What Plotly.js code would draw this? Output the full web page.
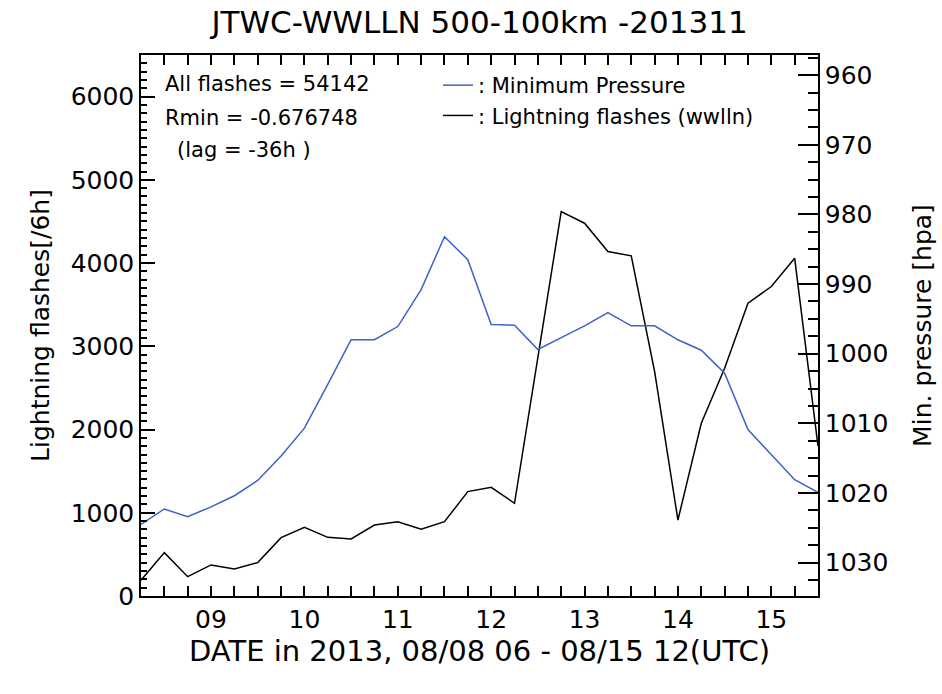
<!DOCTYPE html>
<html>
<head>
<meta charset="utf-8">
<script src="https://cdn.plot.ly/plotly-3.0.1.min.js"></script>
<style>html,body{margin:0;padding:0;background:#fff;}#chart{width:942px;height:694px;}</style>
</head>
<body>
<div id="chart"></div>
<script>
// Time axis: hours after 2013-08-08 00 UTC, 6-hourly from 08/08 06 to 08/15 12
const firstHour = 6;
const stepHours = 6;
const stepCount = 30;
const minPressure = [1024.5, 1022.3, 1023.4, 1022.0, 1020.4, 1018.2, 1014.7, 1010.7, 1004.4, 998.0,
                     998.0, 996.1, 990.8, 983.2, 986.5, 995.8, 995.9, 999.4, 997.7, 996.0,
                     994.1, 996.0, 996.0, 998.0, 999.5, 1002.8, 1010.9, 1014.5, 1018.1, 1019.9];
const lightningFlashes = [190, 521, 232, 373, 325, 401, 701, 825, 705, 685,
                          853, 893, 801, 893, 1254, 1306, 1114, 2870, 4619, 4479,
                          4138, 4087, 2700, 913, 2076, 2737, 3518, 3718, 4059, 1800];

const hours = [];
const tickText = [];
for (let i = 0; i < stepCount; i++) {
  const h = firstHour + i*stepHours;
  hours.push(h);
  tickText.push(h % 24 === 0 ? String(8 + h/24).padStart(2,'0') : '');
}

const FONT = "DejaVu Sans";
const traces = [
  {x: hours, y: minPressure, yaxis: 'y2', mode: 'lines', name: ': Minimum Pressure',
   line: {color: '#3b63c4', width: 1.5}, legendgroup: 'a'},
  {x: hours, y: lightningFlashes, yaxis: 'y', mode: 'lines', name: ': Lightning flashes (wwlln)',
   line: {color: '#000000', width: 1.5}, legendgroup: 'b'}
];

const layout = {
  width: 942, height: 694,
  margin: {l: 141, r: 124, t: 55, b: 98, pad: 0},
  paper_bgcolor: '#fff', plot_bgcolor: '#fff',
  font: {family: FONT, size: 21, color: '#000'},
  title: {text: 'JTWC-WWLLN 500-100km -201311', font: {family: FONT, size: 31, color: '#000'},
          x: 0.5, xref: 'paper', y: 1 - 22/694, yanchor: 'middle', yref: 'container'},
  showlegend: true,
  legend: {x: (438-141)/677, xanchor: 'left', y: (596-65)/541, yanchor: 'top',
           bgcolor: 'rgba(0,0,0,0)', font: {family: FONT, size: 21}, tracegroupgap: 0},
  xaxis: {
    type: 'linear', range: [hours[0], hours[stepCount-1]],
    tickmode: 'array', tickvals: hours, ticktext: tickText,
    ticks: 'inside', ticklen: 10, tickwidth: 1.5, tickcolor: 'black',
    showline: true, linecolor: 'black', linewidth: 1.5, mirror: 'ticks',
    showgrid: false, zeroline: false,
    tickfont: {family: FONT, size: 25},
    title: {text: 'DATE in 2013, 08/08 06 - 08/15 12(UTC)', font: {family: FONT, size: 29}, standoff: 8}
  },
  yaxis: {
    range: [0, 6500], tickmode: 'linear', tick0: 0, dtick: 1000,
    ticks: 'inside', ticklen: 14, tickwidth: 1.5, tickcolor: 'black',
    minor: {dtick: 100, tick0: 0, ticks: 'inside', ticklen: 6, tickwidth: 1.5, tickcolor: 'black', showgrid: false},
    showline: true, linecolor: 'black', linewidth: 1.5,
    showgrid: false, zeroline: false,
    tickfont: {family: FONT, size: 25},
    title: {text: 'Lightning flashes[/6h]', font: {family: FONT, size: 25}, standoff: 14}
  },
  yaxis2: {
    overlaying: 'y', side: 'right', range: [1034.8, 957.1],
    tickmode: 'linear', tick0: 960, dtick: 10,
    ticks: 'inside', ticklen: 20, tickwidth: 1.5, tickcolor: 'black',
    minor: {dtick: 2.5, tick0: 960, ticks: 'inside', ticklen: 10, tickwidth: 1.5, tickcolor: 'black', showgrid: false},
    showline: true, linecolor: 'black', linewidth: 1.5,
    showgrid: false, zeroline: false,
    tickfont: {family: FONT, size: 25},
    title: {text: 'Min. pressure [hpa]', font: {family: FONT, size: 25}, standoff: 26}
  },
  annotations: [
    {text: 'All flashes = 54142', xref: 'paper', yref: 'paper', x: (163-141)/677, y: (596-84)/541,
     xanchor: 'left', yanchor: 'middle', showarrow: false, font: {family: FONT, size: 21}},
    {text: 'Rmin = -0.676748', xref: 'paper', yref: 'paper', x: (163-141)/677, y: (596-118)/541,
     xanchor: 'left', yanchor: 'middle', showarrow: false, font: {family: FONT, size: 21}},
    {text: '(lag = -36h )', xref: 'paper', yref: 'paper', x: (175-141)/677, y: (596-150)/541,
     xanchor: 'left', yanchor: 'middle', showarrow: false, font: {family: FONT, size: 21}}
  ]
};

Plotly.newPlot('chart', traces, layout, {displayModeBar: false});
</script>
</body>
</html>
